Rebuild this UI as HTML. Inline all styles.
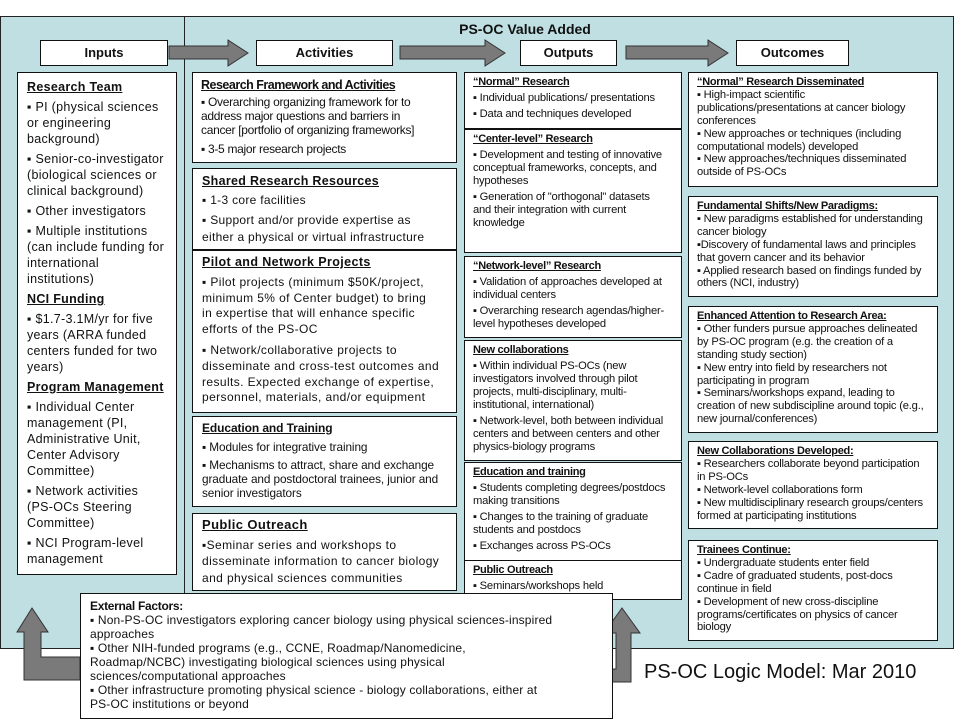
<!DOCTYPE html>
<html><head><meta charset="utf-8">
<style>
*{margin:0;padding:0;box-sizing:border-box}
body{width:960px;height:720px;background:#fff;position:relative;overflow:hidden;font-family:"Liberation Sans",Arial,sans-serif;color:#111}
.pan{position:absolute;background:#bfdfe3;border:1px solid #222}
.b{position:absolute;background:#fff;border:1px solid #111;white-space:nowrap;overflow:hidden}
.h{font-weight:bold;text-decoration:underline}
.hd{position:absolute;background:#fff;border:1px solid #111;font-weight:bold;font-size:13px;text-align:center;line-height:24px}
.in{font-size:12.5px;line-height:16px;padding:6px 0 0 9px;letter-spacing:0.3px}
.in p{margin-top:4px}
.o{font-size:11.2px;letter-spacing:-0.2px;line-height:13px;padding:3px 0 0 8px}
.o p{margin-top:3px}
.o .h{font-size:11px;letter-spacing:-0.3px;line-height:13px}
.oc{font-size:11.2px;letter-spacing:-0.2px;line-height:12.9px;padding:3px 0 0 8px}
.oc .h{font-size:11px;letter-spacing:-0.3px}
</style></head><body>
<div class="pan" style="left:0;top:16px;width:185px;height:633px"></div>
<div class="pan" style="left:184px;top:16px;width:770px;height:633px"></div>
<div style="position:absolute;left:420px;top:21px;width:210px;text-align:center;font-weight:bold;font-size:14px">PS-OC Value Added</div>

<div class="hd" style="left:40px;top:40px;width:128px;height:26px">Inputs</div>
<div class="hd" style="left:256px;top:40px;width:137px;height:26px">Activities</div>
<div class="hd" style="left:520px;top:40px;width:97px;height:26px">Outputs</div>
<div class="hd" style="left:736px;top:40px;width:113px;height:26px">Outcomes</div>

<svg style="position:absolute;left:0;top:0" width="960" height="720">
<g fill="#7a7a7a" stroke="#333" stroke-width="1">
<polygon points="169,46 228,46 228,40 248,53 228,66 228,59 169,59"/>
<polygon points="400,46 485,46 485,40 505,53 485,66 485,59 400,59"/>
<polygon points="626,46 708,46 708,40 728,53 708,66 708,59 626,59"/>
<polygon points="32,608 48,632 41,632 41,657 80,657 80,680 24,680 24,632 17,632"/>
<polygon points="622,608 640,633 631,633 631,682 583,682 583,696 561,677 583,658 583,669 616,669 616,633 604,633"/>
</g>
</svg>

<div class="b in" style="left:17px;top:72px;width:160px;height:503px">
<div class="h">Research Team</div>
<p>▪ PI (physical sciences<br>or engineering<br>background)</p>
<p>▪ Senior-co-investigator<br>(biological sciences or<br>clinical background)</p>
<p>▪ Other investigators</p>
<p>▪ Multiple institutions<br>(can include funding for<br>international<br>institutions)</p>
<p class="h">NCI Funding</p>
<p>▪ $1.7-3.1M/yr for five<br>years (ARRA funded<br>centers funded for two<br>years)</p>
<p class="h">Program Management</p>
<p>▪ Individual Center<br>management (PI,<br>Administrative Unit,<br>Center Advisory<br>Committee)</p>
<p>▪ Network activities<br>(PS-OCs Steering<br>Committee)</p>
<p>▪ NCI Program-level<br>management</p>
</div>

<div class="b" style="left:192px;top:72px;width:265px;height:91px;padding:5px 0 0 8px;font-size:12px;line-height:14px;letter-spacing:-0.3px">
<div class="h" style="font-size:12.5px;letter-spacing:-0.5px">Research Framework and Activities</div>
<div style="margin-top:3px">▪ Overarching organizing framework for to<br>address major questions and barriers in<br>cancer [portfolio of organizing frameworks]</div>
<div style="margin-top:5px">▪ 3-5 major research projects</div>
</div>
<div class="b" style="left:192px;top:168px;width:265px;height:82px;padding:4px 0 0 9px;font-size:12px;line-height:17px;letter-spacing:0.3px">
<div class="h" style="font-size:12.5px">Shared Research  Resources</div>
<div style="margin-top:2px">▪ 1-3 core facilities</div>
<div style="margin-top:3px">▪ Support and/or provide expertise as<br>either a physical or virtual infrastructure</div>
</div>
<div class="b" style="left:192px;top:250px;width:265px;height:163px;padding:4px 0 0 9px;font-size:12px;line-height:15.8px;letter-spacing:0.4px">
<div class="h" style="font-size:12.5px">Pilot and Network  Projects</div>
<div style="margin-top:4px">▪ Pilot projects (minimum $50K/project,<br>minimum 5% of Center budget) to bring<br>in expertise that will enhance  specific<br>efforts of the PS-OC</div>
<div style="margin-top:5px">▪ Network/collaborative projects to<br>disseminate and cross-test outcomes and<br>results. Expected exchange of expertise,<br>personnel, materials, and/or equipment</div>
</div>
<div class="b" style="left:192px;top:416px;width:265px;height:91px;padding:4px 0 0 9px;font-size:11.8px;line-height:14px;letter-spacing:-0.1px">
<div class="h" style="font-size:12px">Education and Training</div>
<div style="margin-top:5px">▪ Modules for integrative training</div>
<div style="margin-top:4px">▪ Mechanisms to attract, share and exchange<br>graduate and postdoctoral trainees, junior and<br>senior investigators</div>
</div>
<div class="b" style="left:192px;top:513px;width:265px;height:78px;padding:3px 0 0 9px;font-size:12px;line-height:16.5px;letter-spacing:0.4px">
<div class="h" style="font-size:13px">Public Outreach</div>
<div style="margin-top:3px">▪Seminar series and workshops to<br>disseminate information to cancer biology<br>and physical sciences communities</div>
</div>

<div class="b o" style="left:464px;top:72px;width:218px;height:57px">
<div class="h">“Normal” Research</div>
<p>▪ Individual publications/ presentations</p>
<p>▪ Data and techniques developed</p>
</div>
<div class="b o" style="left:464px;top:128px;width:218px;height:125px;border-top-width:2px">
<div class="h">“Center-level” Research</div>
<p>▪ Development and testing of innovative<br>conceptual frameworks, concepts, and<br>hypotheses</p>
<p>▪ Generation of "orthogonal" datasets<br>and their integration with current<br>knowledge</p>
</div>
<div class="b o" style="left:464px;top:256px;width:218px;height:82px">
<div class="h">“Network-level” Research</div>
<p>▪ Validation of approaches developed at<br>individual centers</p>
<p>▪ Overarching research agendas/higher-<br>level hypotheses developed</p>
</div>
<div class="b o" style="left:464px;top:340px;width:218px;height:121px">
<div class="h">New collaborations</div>
<p>▪ Within individual PS-OCs (new<br>investigators involved through pilot<br>projects, multi-disciplinary, multi-<br>institutional, international)</p>
<p>▪ Network-level, both between individual<br>centers and between centers and other<br>physics-biology  programs</p>
</div>
<div class="b o" style="left:464px;top:462px;width:218px;height:99px">
<div class="h">Education and training</div>
<p>▪ Students completing degrees/postdocs<br>making transitions</p>
<p>▪ Changes to the training of graduate<br>students and postdocs</p>
<p>▪ Exchanges across PS-OCs</p>
</div>
<div class="b o" style="left:464px;top:560px;width:218px;height:40px">
<div class="h">Public Outreach</div>
<p>▪ Seminars/workshops held</p>
</div>

<div class="b oc" style="left:688px;top:72px;width:250px;height:115px">
<div class="h">“Normal” Research Disseminated</div>
<div>▪ High-impact scientific<br>publications/presentations at cancer biology<br>conferences<br>▪ New approaches or techniques (including<br>computational models) developed<br>▪ New approaches/techniques disseminated<br>outside of PS-OCs</div>
</div>
<div class="b oc" style="left:688px;top:196px;width:250px;height:101px">
<div class="h">Fundamental Shifts/New Paradigms:</div>
<div>▪ New paradigms established for understanding<br>cancer biology<br>▪Discovery of fundamental laws and principles<br>that govern cancer and its behavior<br>▪ Applied research based on findings funded by<br>others (NCI, industry)</div>
</div>
<div class="b oc" style="left:688px;top:306px;width:250px;height:127px">
<div class="h">Enhanced Attention to Research Area:</div>
<div>▪ Other funders pursue approaches delineated<br>by PS-OC program (e.g. the creation of a<br>standing study section)<br>▪ New entry into field by researchers not<br>participating in program<br>▪ Seminars/workshops expand, leading to<br>creation of new subdiscipline around topic (e.g.,<br>new journal/conferences)</div>
</div>
<div class="b oc" style="left:688px;top:441px;width:250px;height:88px">
<div class="h">New Collaborations Developed:</div>
<div>▪ Researchers collaborate beyond participation<br>in PS-OCs<br>▪ Network-level collaborations form<br>▪ New multidisciplinary research groups/centers<br>formed at participating institutions</div>
</div>
<div class="b oc" style="left:688px;top:540px;width:250px;height:101px">
<div class="h">Trainees Continue:</div>
<div>▪ Undergraduate students enter field<br>▪ Cadre of graduated students, post-docs<br>continue in field<br>▪ Development of new cross-discipline<br>programs/certificates on physics of cancer<br>biology</div>
</div>

<div class="b" style="left:80px;top:593px;width:533px;height:126px;padding:5px 0 0 9px;font-size:12px;line-height:14px;letter-spacing:0.15px">
<div style="font-weight:bold;font-size:12px;letter-spacing:-0.3px">External Factors:</div>
<div>▪ Non-PS-OC investigators exploring cancer biology using physical sciences-inspired<br>approaches<br>▪ Other NIH-funded programs (e.g., CCNE, Roadmap/Nanomedicine,<br>Roadmap/NCBC) investigating biological sciences using physical<br>sciences/computational approaches<br>▪  Other infrastructure promoting physical science - biology collaborations, either at<br>PS-OC institutions or beyond</div>
</div>

<div style="position:absolute;left:644px;top:661px;font-size:20px;white-space:nowrap">PS-OC Logic Model: Mar 2010</div>
</body></html>
